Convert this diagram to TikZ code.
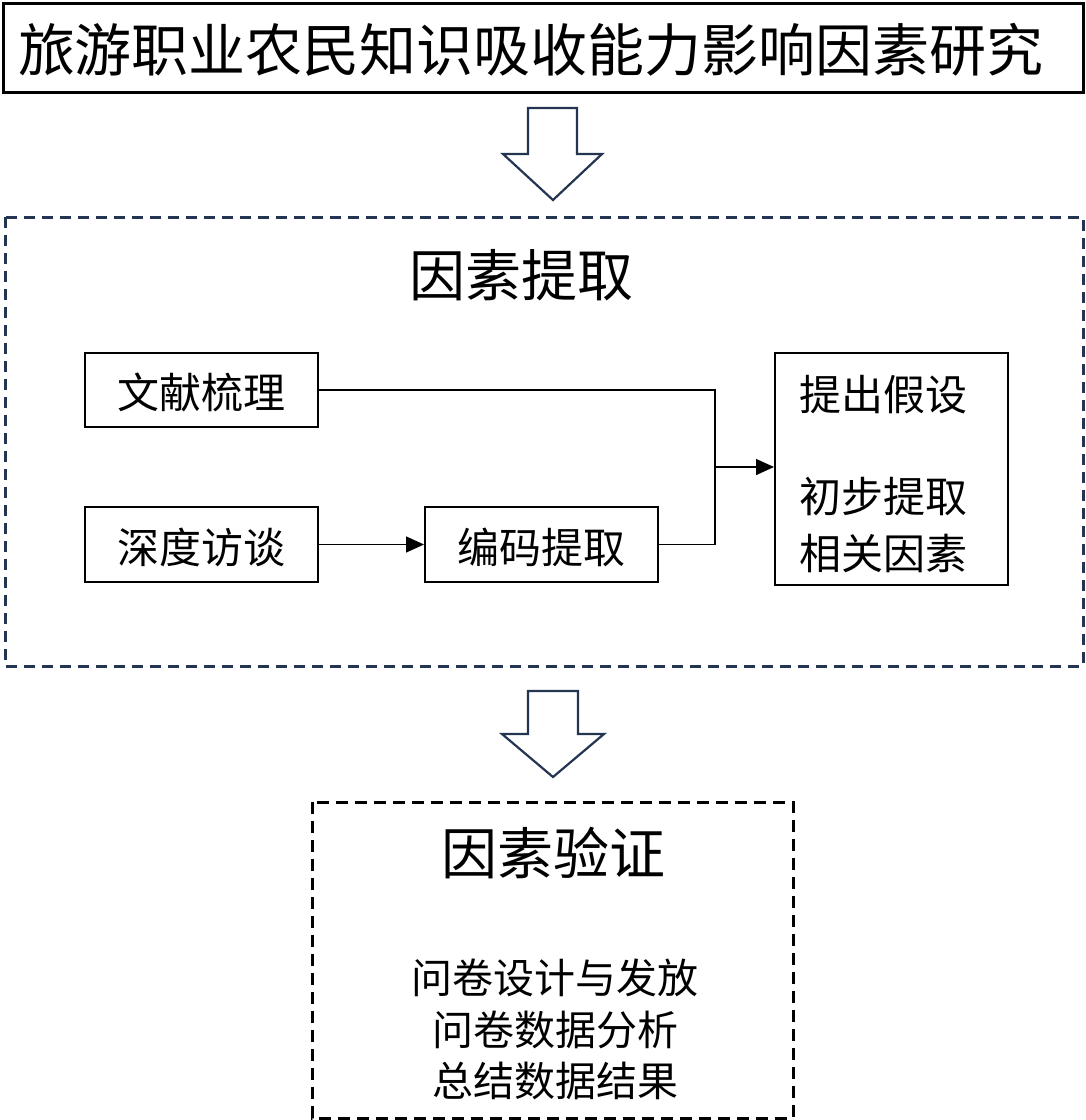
\documentclass[tikz,border=0pt]{standalone}
\usepackage{fontspec}
\setmainfont{Noto Sans CJK SC}
\usetikzlibrary{arrows.meta}
\definecolor{navy}{HTML}{243552}
\tikzset{
  x=1pt, y=-1pt,
  plainbox/.style={draw=black, line width=2pt, inner sep=0pt, fill=white},
  txt/.style={inner sep=0pt, font=\fontsize{42}{48}\selectfont},
  bigtxt/.style={inner sep=0pt, font=\fontsize{56}{60}\selectfont},
  link/.style={draw=black, line width=1.5pt},
  hollow/.style={draw=navy, line width=2.2pt, line join=miter, fill=white},
  navydash/.style={draw=navy, line width=3pt, dash pattern=on 11pt off 7pt},
  blackdash/.style={draw=black, line width=3pt, dash pattern=on 12pt off 7pt},
}
\begin{document}
\begin{tikzpicture}
\useasboundingbox (0,0) rectangle (1086,1120);
% title
\node[plainbox, line width=3pt, minimum width=1080pt, minimum height=89pt] (title) at (543,47.5) {};
\node[inner sep=0pt, font=\fontsize{57}{60}\selectfont] (titletext) at (531,50) {旅游职业农民知识吸收能力影响因素研究};
% hollow arrow 1
\draw[hollow] (528,108) -- (577,108) -- (577,154) -- (602,154) -- (553,200) -- (503,154) -- (528,154) -- cycle;
% dashed frame 1
\draw[navydash] (5,217) rectangle (1083,666);
\node[bigtxt] (extract) at (521,275) {因素提取};
% boxes
\node[plainbox, minimum width=233pt, minimum height=74pt] (wx) at (201.5,390) {};
\node[txt] (wxt) at (201.5,392) {文献梳理};
\node[plainbox, minimum width=233pt, minimum height=75pt] (sd) at (201.5,544.5) {};
\node[txt] (sdt) at (201.5,547) {深度访谈};
\node[plainbox, minimum width=233pt, minimum height=75pt] (bm) at (541.5,544.5) {};
\node[txt] (bmt) at (541.5,547) {编码提取};
\node[plainbox, minimum width=233pt, minimum height=232pt] (hyp) at (891.5,469) {};
\node[txt] (h1) at (883,395) {提出假设};
\node[txt] (h2) at (883,497) {初步提取};
\node[txt] (h3) at (883,553) {相关因素};
% connectors
\coordinate (j) at (715,467);
\draw[link] (wx.east) -| (j);
\draw[link] (bm.east) -| (j);
\draw[link, -{Triangle[length=18pt, width=16pt]}] (j) -- (hyp.west |- j);
\draw[link, -{Triangle[length=18pt, width=16pt]}] (sd.east) -- (bm.west);
% hollow arrow 2
\draw[hollow] (528,691) -- (578,691) -- (578,734) -- (604,734) -- (553,777) -- (502,734) -- (528,734) -- cycle;
% dashed frame 2
\draw[blackdash] (312,802) rectangle (793,1118);
\node[bigtxt] (verify) at (553,853) {因素验证};
\node[txt, font=\fontsize{41}{48}\selectfont] (v1) at (555,978) {问卷设计与发放};
\node[txt, font=\fontsize{41}{48}\selectfont] (v2) at (555,1030) {问卷数据分析};
\node[txt, font=\fontsize{41}{48}\selectfont] (v3) at (555,1081) {总结数据结果};
\end{tikzpicture}
\end{document}
